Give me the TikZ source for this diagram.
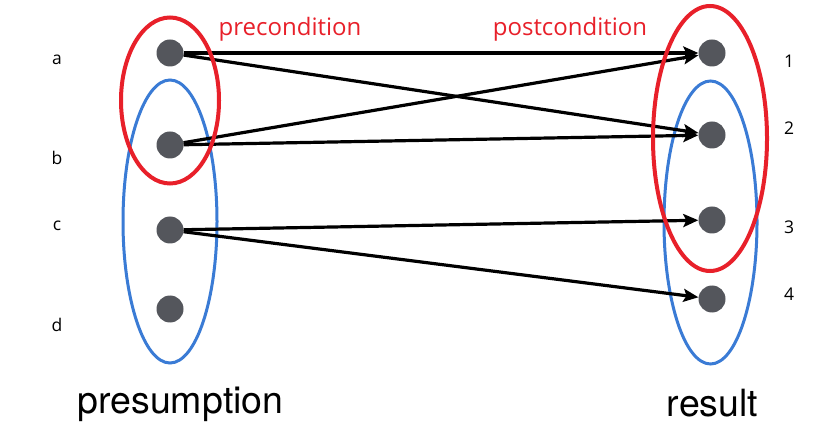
\documentclass[tikz,border=0pt]{standalone}
\usepackage{fontspec}
\setmainfont{Open Sans}
\newfontfamily\helv{TeX Gyre Heros}
\usetikzlibrary{arrows.meta}
\definecolor{cred}{HTML}{E8202A}
\definecolor{cblue}{HTML}{3A7BD5}
\definecolor{cdot}{HTML}{54565C}
\begin{document}
\begin{tikzpicture}[x=1pt,y=-1pt,
  dotnode/.style={circle,fill=cdot,minimum size=27pt,inner sep=0pt},
  redset/.style={draw=cred,line width=4pt},
  blueset/.style={draw=cblue,line width=3pt},
  maparrow/.style={line width=3.2pt,-{Stealth[length=15pt,width=13pt,inset=3pt]}},
  letter/.style={font=\fontsize{17.5}{19}\selectfont},
  redtext/.style={text=cred,font=\fontsize{24}{27}\selectfont},
  bigtext/.style={font=\helv\fontsize{37.5}{40}\selectfont}]
\useasboundingbox (0,0) rectangle (821,443);
\fill[white] (0,0) rectangle (821,443);
% sets
\draw[blueset] (170,221.5) ellipse [x radius=47, y radius=141.5];
\draw[blueset] (710.5,222.5) ellipse [x radius=46.5, y radius=141.5];
% dots
\node[dotnode] (a) at (170,53) {};
\node[dotnode] (b) at (170,145) {};
\node[dotnode] (c) at (170,230) {};
\node[dotnode] (d) at (170,309) {};
\node[dotnode] (r1) at (712,53) {};
\node[dotnode] (r2) at (712,135) {};
\node[dotnode] (r3) at (712,220) {};
\node[dotnode] (r4) at (712,299) {};
% arrows
\draw[maparrow] (a) -- (r1);
\draw[maparrow] (a) -- (r2);
\draw[maparrow] (b) -- (r1);
\draw[maparrow] (b) -- (r2);
\draw[maparrow] (c) -- (r3);
\draw[maparrow] (c) -- (r4);
\draw[redset] (170,100.5) ellipse [x radius=49, y radius=83];
\draw[redset] (710,138.5) ellipse [x radius=57, y radius=132.5];
% labels
\node[letter] (la) at (57,60) {a};
\node[letter] (lb) at (57,158) {b};
\node[letter] (lc) at (57,226) {c};
\node[letter] (ld) at (57,325) {d};
\node[letter] (l1) at (789,61) {1};
\node[letter] (l2) at (789,128) {2};
\node[letter] (l3) at (789,227) {3};
\node[letter] (l4) at (789,294) {4};
\node[redtext] (pre) at (290,29) {precondition};
\node[redtext] (post) at (570,29) {postcondition};
\node[bigtext,anchor=base] (pres) at (180.5,413) {presumption};
\node[bigtext,anchor=base] (res) at (712.5,416) {result};
\end{tikzpicture}
\end{document}
